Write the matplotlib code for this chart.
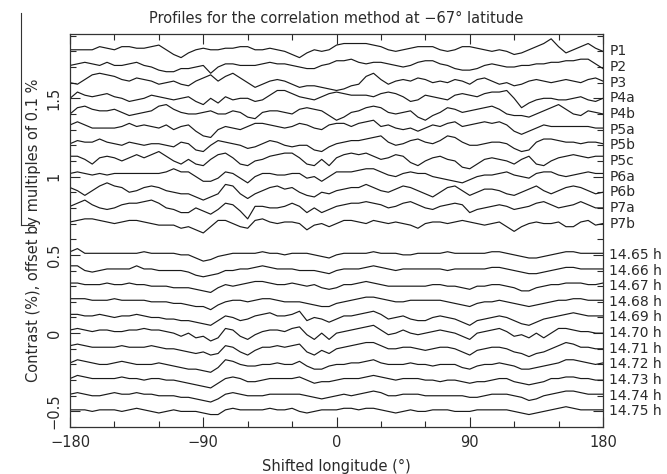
import numpy as np
import matplotlib
matplotlib.use('Agg')
import matplotlib.pyplot as plt
from matplotlib.lines import Line2D
from matplotlib.ticker import MultipleLocator

# longitude grid of the read-off profiles (deg)
lon = np.arange(-180, 181, 5)

# profile deviations in units of 0.01 %
p1 = [1,1,1,1,3,2,1,3,3,2,2,3, 4,1,-2,-4,-1,1,2,1,1,2,2,3, 3,1,1,2,1,0,-2,-4,-1,1,0,1,
      4,5,5,5,5,4,3,1,0,1,2,3, 3,3,1,0,1,3,3,2,1,0,1,0, -2,-1,1,3,5,8,3,-1,1,3,5,2,0]
p2 = [1,2,3,2,1,3,1,1,2,3,1,0, -2,-3,-3,-1,-1,0,1,-4,0,2,2,1, 1,1,2,3,2,2,1,0,-1,-1,1,2,
      4,4,5,3,2,3,3,2,1,0,1,3, 4,4,2,1,-1,-2,-2,-1,1,2,1,0, 0,1,1,2,2,3,3,4,4,5,5,2,-1]
p3 = [0,-1,2,5,6,5,4,2,1,3,2,1, -1,0,1,-1,-2,1,3,5,1,4,6,3, 0,-3,-1,1,2,1,-1,-3,-2,-2,-3,-4,
      -5,-4,-2,-1,4,6,2,-1,1,2,1,3, 2,0,1,0,2,1,-1,2,3,1,-1,0, -2,-1,1,2,1,0,1,2,1,0,2,3,1]
p4a = [0,4,2,1,2,3,1,0,-2,-1,0,2, 1,0,-1,0,1,-2,-4,0,-3,1,-1,0, 0,-2,-1,2,5,5,3,1,0,-1,1,3,
       4,3,2,2,2,1,3,4,3,1,-2,-1, 2,1,0,-1,2,3,2,1,3,4,4,5, 0,-6,-3,-1,0,0,-1,-1,0,1,-1,-2,0]
p4b = [0,4,5,3,2,2,3,1,-1,0,1,2, 5,6,3,1,0,0,1,2,0,0,2,1, -2,-3,1,2,2,1,0,3,4,3,2,-1,
       -4,-2,1,2,4,5,4,1,0,1,2,-2, -4,-1,1,4,3,1,2,3,4,5,3,0, -1,-1,-2,0,2,4,6,3,0,-1,2,1,0]
p5a = [3,5,3,1,1,1,1,2,4,2,3,2, 1,3,0,2,3,-1,-4,-5,0,2,1,0, 2,4,4,3,2,1,2,4,3,1,0,3,
       4,4,2,4,5,6,2,3,1,0,1,-1, 1,3,2,4,5,2,3,4,5,4,5,3, -1,-3,-1,1,3,2,2,2,2,2,2,1,1]
p5b = [1,3,2,2,4,2,1,0,2,1,0,1, 1,0,-1,2,1,-3,-4,0,3,2,1,0, -2,-1,1,3,2,0,-1,0,0,-3,-4,-1,
       1,2,3,3,4,5,6,2,0,1,3,4, 2,1,3,6,5,2,0,0,1,2,2,1, -2,-4,-3,2,4,4,3,2,2,1,2,2,1]
p5c = [3,3,1,-2,2,3,2,0,2,4,2,4, 6,3,0,-2,1,-2,-3,1,4,5,2,-2, -3,0,1,3,4,5,5,2,-2,-3,1,-3,
       2,4,5,4,5,3,1,2,4,3,-1,-3, 0,2,3,1,0,-4,-5,-2,1,2,1,0, -2,1,3,-2,-3,0,2,3,4,3,2,3,3]
p6a = [2,3,2,1,2,1,2,2,2,2,2,2, 2,3,5,3,3,0,-3,-3,-1,3,2,-1, -4,0,2,2,1,1,2,2,-1,0,-3,0,
       3,3,3,4,5,5,3,1,0,2,3,2, 2,0,-1,-2,-3,-4,-2,0,1,1,2,3, 1,0,-1,2,3,3,1,0,1,2,3,2,2]
p6b = [3,1,-2,1,4,6,4,3,0,1,3,4, 3,1,0,-1,-1,-3,-5,-3,-1,5,4,-1, -4,-1,1,3,4,2,3,0,-2,-3,0,-1,
       1,2,3,3,5,3,1,0,2,4,3,1, -1,-3,0,3,4,1,-2,0,2,2,1,-1, -2,0,2,4,1,-1,1,3,4,3,1,-1,0]
p7a = [1,3,5,2,0,-1,0,2,3,3,4,5, 3,0,-1,-3,-3,0,-2,-4,-1,3,2,-2, -7,1,1,0,0,1,3,1,-3,0,-3,-1,
       1,2,3,3,4,3,2,0,1,3,4,2, 0,-1,1,2,3,2,-3,-1,0,1,2,1, -1,0,1,3,4,2,0,1,2,4,2,0,0]
p7b = [1,2,3,3,2,1,0,1,2,2,1,0, -1,-1,-1,-3,-2,-4,-6,-2,2,2,0,-2, -3,2,3,1,0,1,1,0,-4,-1,0,-2,
       0,2,2,1,0,2,1,0,1,0,-1,-3, 0,1,1,0,1,2,1,0,-1,0,1,-2, -5,-2,0,1,0,0,1,-2,-2,1,2,-1,0]

h1465 = [2,4,1,1,1,1,1,1,1,1,2,1, 1,1,1,0,0,-2,-4,-3,-1,0,1,1, 1,1,2,1,1,0,1,1,1,0,-1,-2,
         0,1,1,1,1,2,1,1,1,0,0,1, 1,1,1,2,1,1,1,1,1,2,2,1, 0,-1,-2,-2,-1,0,1,2,2,1,1,1,1]
h1466 = [3,3,0,-1,0,1,1,1,1,3,1,1, 0,0,0,0,-1,-3,-4,-3,-2,0,0,1, 1,2,3,2,1,1,1,0,0,0,-1,-2,
         0,1,1,1,2,3,2,1,0,1,1,1, 1,1,1,0,1,1,1,1,1,2,2,1, 0,-1,-2,-2,-1,0,1,2,2,1,1,1,1]
h1467 = [2,2,1,1,1,2,1,1,2,1,1,0, 0,0,-1,-1,-1,-2,-3,-4,-1,1,0,1, 2,3,3,2,1,1,2,1,0,1,-1,-2,
         -1,1,1,2,3,2,1,0,0,0,0,0, 0,1,1,0,0,-1,-2,0,0,1,1,0, -1,-3,-3,-1,0,1,1,2,2,2,1,1,2]
h1468 = [2,2,2,1,1,1,2,1,1,1,1,0, 0,0,-1,-1,-2,-3,-3,-5,-2,0,1,1, 0,1,2,2,1,0,0,0,-1,-2,-3,-3,
         -1,0,1,2,3,3,2,1,0,0,1,1, 1,1,1,0,-1,-2,-3,-1,0,0,1,0, -1,-2,-3,-2,-1,0,1,1,2,2,1,1,1]
h1469 = [2,2,1,1,2,1,0,1,1,2,1,0, 0,-1,-1,-2,-2,-3,-4,-5,-2,1,0,-2, -1,1,2,3,1,1,2,4,-2,0,-1,-3,
         -1,1,1,2,3,4,2,-1,0,1,-1,-2, -2,0,1,0,-1,-3,-5,-2,-1,0,1,0, -2,-4,-5,-3,-1,0,1,2,3,2,1,1,1]
h1470 = [2,3,2,1,2,2,1,1,2,2,3,2, 2,1,0,-2,0,-3,-2,-5,-3,3,2,-2, -4,-1,1,2,2,1,3,4,-1,-4,0,-4,
         0,1,2,3,4,5,2,-1,0,2,0,-1, 0,1,2,1,0,-2,-4,0,1,2,3,1, -2,-1,-3,0,-3,0,3,3,2,1,1,0,0]
h1471 = [2,3,2,1,1,1,1,2,1,1,1,2, 1,0,0,-1,-2,-3,-2,-4,-3,2,1,-2, -4,-1,1,1,2,1,2,3,-2,-4,-1,-3,
         0,1,2,3,4,4,2,0,0,1,1,0, -1,0,1,1,0,-2,-4,-1,0,1,1,0, -2,-3,-5,-3,-2,0,2,4,3,1,1,0,0]
h1472 = [1,3,2,1,0,0,1,2,1,0,0,0, 1,0,-1,-2,-3,-3,-4,-5,-2,3,2,0, -1,-1,0,0,1,0,0,2,-1,-3,-3,-1,
         0,0,1,1,2,3,1,0,0,0,1,0, 0,-1,0,0,0,-2,-3,-1,0,0,1,0, -1,-3,-3,-2,-1,0,1,3,3,2,1,0,1]
h1473 = [1,3,2,1,1,1,1,2,1,1,0,1, 1,0,0,-1,-2,-3,-4,-5,-2,1,2,1, -1,-1,0,1,1,1,1,2,0,-2,-1,-1,
         0,1,1,1,2,3,2,1,0,1,1,1, 0,0,-1,0,0,-1,-2,-1,-1,0,1,1, -1,-2,-3,-2,-1,1,1,2,2,1,1,0,0]
h1474 = [1,2,1,0,0,1,2,1,1,2,1,1, 0,0,0,-1,-1,-2,-3,-4,-2,1,2,1, 0,0,0,1,1,1,1,1,0,-1,-2,-1,
         0,1,0,1,2,3,2,0,0,1,1,1, 0,0,0,0,0,0,-1,-1,0,1,1,1, 0,-1,-3,-2,0,1,2,3,3,2,1,1,1]
h1475 = [1,1,1,0,1,1,1,0,1,2,1,0, -1,0,1,0,0,0,-1,-2,-2,1,2,1, 1,1,1,2,1,1,2,0,-1,0,1,1,
         1,2,2,1,2,2,1,0,-1,0,1,0, 0,1,1,1,0,0,0,1,1,1,1,1, 0,-1,-2,-1,0,1,2,3,2,1,1,1,1]

names = ['P1', 'P2', 'P3', 'P4a', 'P4b', 'P5a', 'P5b', 'P5c', 'P6a', 'P6b', 'P7a', 'P7b',
         '14.65 h', '14.66 h', '14.67 h', '14.68 h', '14.69 h', '14.70 h',
         '14.71 h', '14.72 h', '14.73 h', '14.74 h', '14.75 h']
profiles = [p1, p2, p3, p4a, p4b, p5a, p5b, p5c, p6a, p6b, p7a, p7b,
            h1465, h1466, h1467, h1468, h1469, h1470, h1471, h1472, h1473, h1474, h1475]
offsets = [1.8, 1.7, 1.6, 1.5, 1.4, 1.3, 1.2, 1.1, 1.0, 0.9, 0.8, 0.7,
           0.5, 0.4, 0.3, 0.2, 0.1, 0.0, -0.1, -0.2, -0.3, -0.4, -0.5]

plt.rcParams['font.family'] = ['DejaVu Sans']
plt.rcParams['font.size'] = 10

fig = plt.figure(figsize=(6.67, 4.74), dpi=100)
ax = fig.add_axes([0.105, 0.099, 0.799, 0.829])

txtcol = '#2a2a2a'
for name, prof, off in zip(names, profiles, offsets):
    y = off + np.array(prof) / 100.0
    ax.plot(lon, y, color='#1a1a1a', lw=0.85, solid_joinstyle='round')
    ax.text(1.012, off, name, transform=ax.get_yaxis_transform(),
            ha='left', va='center', fontsize=10, color=txtcol)

ax.set_xlim(-180, 180)
ax.set_ylim(-0.6, 1.91)
ax.xaxis.set_minor_locator(MultipleLocator(30))
ax.yaxis.set_minor_locator(MultipleLocator(0.1))
ax.set_yticks([-0.5, 0, 0.5, 1, 1.5])
ax.set_yticklabels(['\u22120.5', '0', '0.5', '1', '1.5'], rotation=90, va='center')
ax.set_xticks([-180, -90, 0, 90, 180])
ax.set_xticklabels(['\u2212180', '\u221290', '0', '90', '180'])
ax.tick_params(which='both', direction='in', top=True, right=True, width=0.8,
               colors=txtcol, labelsize=10.5)
ax.tick_params(which='major', length=7, pad=6)
ax.tick_params(which='minor', length=4)
for sp in ax.spines.values():
    sp.set_linewidth(0.9)
    sp.set_color('#333333')

ax.set_title('Profiles for the correlation method at \u221267\u00b0 latitude',
             fontsize=10.5, color=txtcol, pad=8)
ax.set_xlabel('Shifted longitude (\u00b0)', fontsize=10.5, color=txtcol, labelpad=6)
ax.set_ylabel('Contrast (%), offset by multiples of 0.1 %', fontsize=10.5,
              color=txtcol, labelpad=4)

# stray frame line at the far left of the scanned page
fig.add_artist(Line2D([21 / 667, 21 / 667], [1 - 13 / 474, 1 - 225 / 474],
                      color='#333333', lw=0.8))
fig.add_artist(Line2D([21 / 667, 34 / 667], [1 - 225 / 474, 1 - 225 / 474],
                      color='#333333', lw=0.8))

fig.savefig('out.png', dpi=100)
